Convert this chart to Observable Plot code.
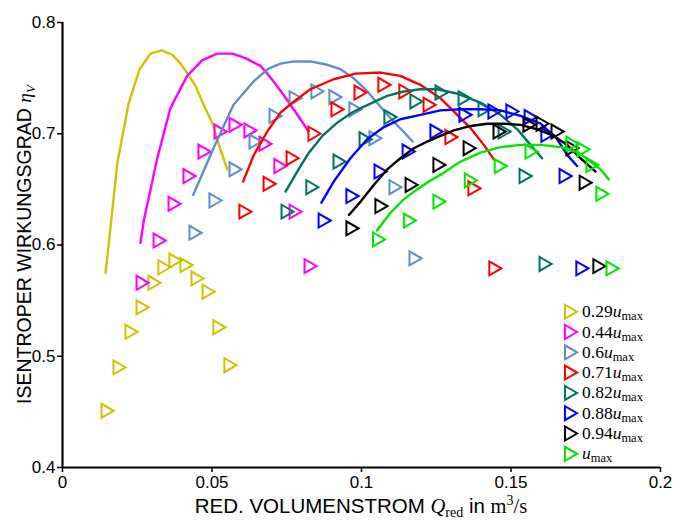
<!DOCTYPE html>
<html>
<head>
<meta charset="utf-8">
<script src="https://cdn.jsdelivr.net/npm/d3@7"></script>
<script src="https://cdn.jsdelivr.net/npm/@observablehq/plot@0.6"></script>
<style>
  body { margin: 0; background: #fff; }
  #chart svg { display: block; }
</style>
</head>
<body>
<div id="chart"></div>
<script>
// Speed levels (fraction of u_max) and their colours
const speedLabels = ["0.29", "0.44", "0.6", "0.71", "0.82", "0.88", "0.94", ""];
const speedColors = ["#d4c000", "#ff00ff", "#5f8ccd", "#ff0000", "#00735e", "#0000ff", "#000000", "#00e600"];

// Calculated efficiency curves: [Q_red (m³/s), η_V]
const curve029 = [[0.0144,0.575],[0.0163,0.622],[0.0183,0.673],[0.0221,0.727],[0.0258,0.758],[0.0294,0.772],[0.0331,0.775],[0.0367,0.771],[0.0395,0.763],[0.0421,0.753],[0.0445,0.743],[0.0472,0.726],[0.0502,0.709],[0.0522,0.691],[0.0551,0.668]];
const curve044 = [[0.0261,0.602],[0.0272,0.622],[0.0317,0.678],[0.0361,0.723],[0.0417,0.752],[0.0467,0.766],[0.0517,0.772],[0.0568,0.772],[0.0612,0.768],[0.0662,0.761],[0.0679,0.756],[0.0706,0.747],[0.0739,0.735],[0.0773,0.722],[0.0806,0.709],[0.0823,0.702]];
const curve060 = [[0.0437,0.645],[0.0505,0.687],[0.0572,0.726],[0.0639,0.747],[0.0686,0.758],[0.0729,0.763],[0.0773,0.765],[0.0829,0.765],[0.0886,0.762],[0.0930,0.758],[0.0973,0.750],[0.1020,0.738],[0.1064,0.724],[0.1107,0.711],[0.1140,0.702],[0.1171,0.693]];
const curve071 = [[0.0604,0.657],[0.0640,0.681],[0.0685,0.702],[0.0729,0.719],[0.0774,0.729],[0.0829,0.740],[0.0907,0.749],[0.0980,0.754],[0.1064,0.755],[0.1130,0.752],[0.1197,0.744],[0.1264,0.732],[0.1320,0.717],[0.1365,0.705],[0.1409,0.690],[0.1443,0.677]];
const curve082 = [[0.0746,0.648],[0.0785,0.666],[0.0824,0.683],[0.0869,0.698],[0.0919,0.710],[0.0974,0.720],[0.1030,0.727],[0.1086,0.734],[0.1141,0.738],[0.1197,0.740],[0.1253,0.740],[0.1320,0.736],[0.1398,0.728],[0.1465,0.717],[0.1521,0.704],[0.1565,0.690],[0.1604,0.678]];
const curve088 = [[0.0866,0.638],[0.0907,0.657],[0.0963,0.678],[0.1019,0.695],[0.1075,0.706],[0.1130,0.713],[0.1197,0.717],[0.1264,0.721],[0.1331,0.722],[0.1398,0.722],[0.1465,0.721],[0.1532,0.716],[0.1599,0.709],[0.1652,0.696],[0.1688,0.681],[0.1721,0.671]];
const curve094 = [[0.0958,0.627],[0.0997,0.639],[0.1041,0.654],[0.1086,0.668],[0.1130,0.678],[0.1175,0.687],[0.1220,0.693],[0.1264,0.698],[0.1309,0.703],[0.1365,0.707],[0.1420,0.709],[0.1476,0.709],[0.1532,0.708],[0.1588,0.704],[0.1643,0.698],[0.1688,0.690],[0.1732,0.678],[0.1783,0.666]];
const curve100 = [[0.1052,0.613],[0.1097,0.629],[0.1141,0.641],[0.1186,0.650],[0.1231,0.658],[0.1264,0.663],[0.1331,0.675],[0.1398,0.683],[0.1465,0.688],[0.1532,0.690],[0.1599,0.690],[0.1666,0.688],[0.1726,0.683],[0.1766,0.675],[0.1799,0.668],[0.1827,0.659]];

// Measured operating points: [Q_red (m³/s), η_V]
const meas029 = [[0.0144,0.451],[0.0184,0.490],[0.0224,0.522],[0.0261,0.544],[0.0301,0.566],[0.0334,0.580],[0.0371,0.586],[0.0408,0.582],[0.0445,0.570],[0.0482,0.558],[0.0518,0.526],[0.0555,0.492]];
const meas044 = [[0.0261,0.566],[0.0318,0.604],[0.0368,0.637],[0.0418,0.662],[0.0468,0.684],[0.0522,0.702],[0.0572,0.708],[0.0622,0.703],[0.0672,0.691],[0.0722,0.671],[0.0773,0.630],[0.0823,0.581]];
const meas060 = [[0.0438,0.611],[0.0505,0.640],[0.0572,0.668],[0.0639,0.693],[0.0706,0.716],[0.0773,0.732],[0.0846,0.738],[0.0906,0.733],[0.0973,0.722],[0.1040,0.696],[0.1107,0.652],[0.1174,0.588]];
const meas071 = [[0.0605,0.630],[0.0686,0.655],[0.0763,0.678],[0.0836,0.700],[0.0913,0.722],[0.0990,0.737],[0.1070,0.744],[0.1140,0.738],[0.1221,0.726],[0.1294,0.697],[0.1371,0.651],[0.1441,0.579]];
const meas082 = [[0.0746,0.630],[0.0829,0.652],[0.0920,0.675],[0.1007,0.695],[0.1090,0.715],[0.1177,0.729],[0.1261,0.737],[0.1338,0.732],[0.1405,0.722],[0.1472,0.702],[0.1542,0.662],[0.1609,0.583]];
const meas088 = [[0.0870,0.622],[0.0963,0.644],[0.1057,0.666],[0.1151,0.684],[0.1244,0.702],[0.1341,0.717],[0.1438,0.720],[0.1498,0.720],[0.1559,0.715],[0.1615,0.699],[0.1676,0.662],[0.1732,0.579]];
const meas094 = [[0.0963,0.615],[0.1060,0.635],[0.1161,0.654],[0.1254,0.672],[0.1355,0.687],[0.1455,0.702],[0.1555,0.708],[0.1599,0.709],[0.1649,0.702],[0.1699,0.687],[0.1743,0.656],[0.1789,0.581]];
const meas100 = [[0.1052,0.605],[0.1155,0.622],[0.1254,0.639],[0.1359,0.658],[0.1459,0.671],[0.1562,0.684],[0.1699,0.691],[0.1736,0.686],[0.1766,0.672],[0.1799,0.646],[0.1833,0.579]];

const curves = [curve029, curve044, curve060, curve071, curve082, curve088, curve094, curve100];
const measured = [meas029, meas044, meas060, meas071, meas082, meas088, meas094, meas100];

// Axis ticks
const xTicks = [0, 0.05, 0.1, 0.15, 0.2];
const yTicks = [0.4, 0.5, 0.6, 0.7, 0.8];

const toRows = (pairs, i) => pairs.map(([q, eta]) => ({q, eta, speed: i}));

const seriesMarks = curves.flatMap((c, i) => [
  Plot.line(toRows(c, i), {x: "q", y: "eta", stroke: speedColors[i], strokeWidth: 2.4}),
  Plot.dot(toRows(measured[i], i), {
    x: "q", y: "eta", symbol: "triangle", rotate: 90, r: 5.2,
    stroke: speedColors[i], strokeWidth: 2, fill: "none"
  })
]);

const W = 676, H = 521;
const margin = {left: 62, right: 16, top: 22, bottom: 54};

const plot = Plot.plot({
  width: W, height: H,
  marginLeft: margin.left, marginRight: margin.right,
  marginTop: margin.top, marginBottom: margin.bottom,
  style: {fontFamily: "'Liberation Sans', Arial, sans-serif", fontSize: "17px", color: "#000", background: "#fff", overflow: "visible"},
  x: {domain: [0, 0.2]},
  y: {domain: [0.4, 0.8]},
  marks: [
    Plot.axisX({ticks: xTicks, tickFormat: d => String(d), tickSize: 5, tickPadding: 3, label: null, fontSize: 17, strokeWidth: 1.5}),
    Plot.axisY({ticks: yTicks, tickFormat: d => String(d), tickSize: 5, tickPadding: 2, label: null, fontSize: 17, strokeWidth: 1.5}),
    ...seriesMarks,
    Plot.ruleX([0], {stroke: "#000", strokeWidth: 2.2}),
    Plot.ruleY([0.4], {stroke: "#000", strokeWidth: 2.2})
  ]
});

document.getElementById("chart").appendChild(plot);

const svg = d3.select(plot);
const serif = "'Liberation Serif', 'DejaVu Serif', serif";
const sans = "'Liberation Sans', Arial, sans-serif";
const plotCenterX = margin.left + (W - margin.left - margin.right) / 2;
const plotCenterY = margin.top + (H - margin.top - margin.bottom) / 2;

// x-axis title
const xt = svg.append("text")
  .attr("x", plotCenterX).attr("y", H - 8)
  .attr("text-anchor", "middle").attr("font-size", 20.5).attr("fill", "#000");
xt.append("tspan").attr("font-family", sans).text("RED. VOLUMENSTROM ");
xt.append("tspan").attr("font-family", serif).attr("font-style", "italic").text("Q");
xt.append("tspan").attr("font-family", serif).attr("font-size", 14).attr("dy", 4).text("red");
xt.append("tspan").attr("font-family", sans).attr("dy", -4).text(" in ");
xt.append("tspan").attr("font-family", serif).text("m");
xt.append("tspan").attr("font-family", serif).attr("font-size", 14).attr("dy", -8).text("3");
xt.append("tspan").attr("font-family", serif).attr("dy", 8).text("/s");

// y-axis title
const yt = svg.append("text")
  .attr("transform", `translate(31,${plotCenterY}) rotate(-90)`)
  .attr("text-anchor", "middle").attr("font-size", 19.5).attr("fill", "#000");
yt.append("tspan").attr("font-family", sans).text("ISENTROPER WIRKUNGSGRAD ");
yt.append("tspan").attr("font-family", serif).attr("font-style", "italic").text("η");
yt.append("tspan").attr("font-family", serif).attr("font-style", "italic").attr("font-size", 13).attr("dy", 4).text("V");

// Legend (lower right)
const tri = d3.symbol(d3.symbolTriangle, Math.PI * 27)();
const legend = svg.append("g").attr("text-anchor", "start");
speedLabels.forEach((lab, i) => {
  const cy = 311.7 + i * 20.3;
  legend.append("path").attr("d", tri)
    .attr("transform", `translate(569,${cy}) rotate(90)`)
    .attr("fill", "none").attr("stroke", speedColors[i]).attr("stroke-width", 2);
  const t = legend.append("text").attr("x", 582).attr("y", cy + 5.5)
    .attr("text-anchor", "start")
    .attr("font-family", serif).attr("font-size", 17.5).attr("fill", "#000");
  if (lab) t.append("tspan").text(lab);
  t.append("tspan").attr("font-style", "italic").text("u");
  t.append("tspan").attr("font-size", 12.5).attr("dy", 3).text("max");
});
</script>
</body>
</html>
